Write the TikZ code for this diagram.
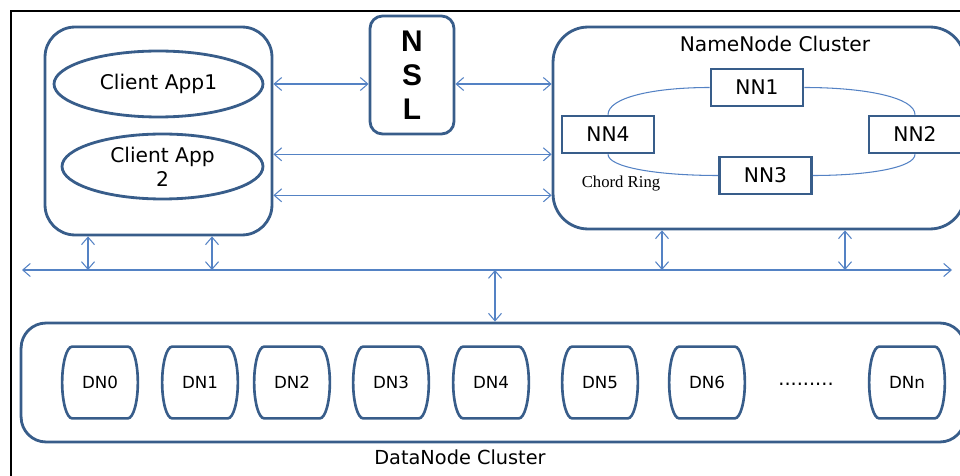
\documentclass[tikz,border=0pt]{standalone}
\usepackage{fontspec}
\setmainfont{DejaVu Sans}
\newfontfamily\ringfont{Liberation Serif}
\newfontfamily\nslfont{Liberation Sans}
\usetikzlibrary{positioning,arrows.meta,shapes.geometric}
\definecolor{boxblue}{RGB}{56,93,138}
\definecolor{linkblue}{RGB}{84,130,196}
\tikzset{
  cluster/.style={draw=boxblue, line width=1.6pt, rounded corners=0.6cm, inner sep=0pt},
  appell/.style={ellipse, draw=boxblue, line width=1.6pt, inner sep=0pt, align=center, font=\fontsize{11.5}{13.5}\selectfont},
  nnbox/.style={rectangle, draw=boxblue, line width=1.5pt, minimum width=1.84cm, minimum height=0.74cm, inner sep=0pt, font=\fontsize{11.5}{13}\selectfont},
  dnbox/.style={minimum width=1.5cm, minimum height=1.42cm, inner sep=0pt, font=\fontsize{9.5}{11}\selectfont},
  barrel/.style={draw=boxblue, line width=1.5pt},
  link/.style={draw=linkblue, line width=0.6pt, {Straight Barb[length=1.5mm,width=2.6mm]}-{Straight Barb[length=1.5mm,width=2.6mm]}},
  ring/.style={draw=linkblue, line width=0.6pt},
}

\begin{document}
\begin{tikzpicture}[x=0.02cm, y=-0.02cm]
  \useasboundingbox (0,0) rectangle (960,476);
  \draw[line width=1.2pt] (11,476) -- (11,11) -- (960,11);

  % clients
  \node[cluster, minimum width=4.54cm, minimum height=4.16cm] (client) at (158.5,131) {};
  \node[appell, minimum width=4.18cm, minimum height=1.32cm] (app1) at (158.5,84) {Client App1};
  \node[appell, minimum width=4.02cm, minimum height=1.3cm] (app2) at (162.5,166.5) {Client App\\2};

  % NSL
  \node[cluster, rounded corners=0.25cm, minimum width=1.68cm, minimum height=2.36cm, align=center,
        font=\nslfont\bfseries\fontsize{17}{19.3}\selectfont] (nsl) at (412,75) {N\\S\\L};

  % namenodes
  \node[cluster, rounded corners=0.7cm, minimum width=8.24cm, minimum height=4.04cm] (nncl) at (759,128) {};
  \node[font=\fontsize{11.5}{13}\selectfont] (nntitle) at (775,44) {NameNode Cluster};
  \node[nnbox] (nn1) at (757,87.5) {NN1};
  \node[nnbox] (nn2) at (915,134.5) {NN2};
  \node[nnbox] (nn3) at (765.5,175.5) {NN3};
  \node[nnbox] (nn4) at (608,134.5) {NN4};
  \draw[ring] (nn4.north) .. controls +(0,-17) and +(-57,0) .. (nn1.west);
  \draw[ring] (nn1.east) .. controls +(62,0) and +(0,-17) .. (nn2.north);
  \draw[ring] (nn2.south) .. controls +(0,13) and +(57,0) .. (nn3.east);
  \draw[ring] (nn3.west) .. controls +(-61,0) and +(0,13) .. (nn4.south);
  \node[font=\ringfont\fontsize{9.5}{11}\selectfont] (chord) at (621,184) {Chord Ring};

  % datanodes
  \node[cluster, rounded corners=0.5cm, minimum width=18.88cm, minimum height=2.38cm] (dncl) at (493,382.5) {};
  \node[font=\fontsize{11}{13}\selectfont] (dntitle) at (460,457) {DataNode Cluster};
  \foreach \x/\lbl [count=\i] in {100/DN0, 200/DN1, 292/DN2, 391/DN3, 491/DN4, 600/DN5, 707/DN6, 907/DNn}{
    \node[dnbox] (dn\i) at (\x,382.5) {\lbl};
    \draw[barrel] ([xshift=0.2cm]dn\i.north west) -- ([xshift=-0.2cm]dn\i.north east)
      .. controls +(5.5,0) and +(0,-19.5) .. (dn\i.east)
      .. controls +(0,19.5) and +(5.5,0) .. ([xshift=-0.2cm]dn\i.south east)
      -- ([xshift=0.2cm]dn\i.south west)
      .. controls +(-5.5,0) and +(0,19.5) .. (dn\i.west)
      .. controls +(0,-19.5) and +(-5.5,0) .. ([xshift=0.2cm]dn\i.north west) -- cycle;
  }
  \node[font=\fontsize{11}{12}\selectfont] (dots) at (806,384) {.........};

  % links
  \draw[link] (client.east |- app1) -- (nsl.west |- app1);
  \draw[link] (nsl.east |- app1) -- (nncl.west |- app1);
  \draw[link] (client.east |- nn4.south) -- (nncl.west |- nn4.south);
  \draw[link] (client.east |- nn3.south) -- (nncl.west |- nn3.south);

  % bus
  \coordinate (busw) at (22,270);
  \coordinate (buse) at (952,270);
  \draw[link] (busw) -- (buse);
  \coordinate (tap1) at (88,270);
  \coordinate (tap2) at (212,270);
  \coordinate (tap3) at (662,270);
  \coordinate (tap4) at (845,270);
  \coordinate (tap5) at (495,270);
  \draw[link] (tap1) -- (tap1 |- client.south);
  \draw[link] (tap2) -- (tap2 |- client.south);
  \draw[link] (tap3) -- (tap3 |- nncl.south);
  \draw[link] (tap4) -- (tap4 |- nncl.south);
  \draw[link] (tap5) -- (tap5 |- dncl.north);
\end{tikzpicture}
\end{document}
